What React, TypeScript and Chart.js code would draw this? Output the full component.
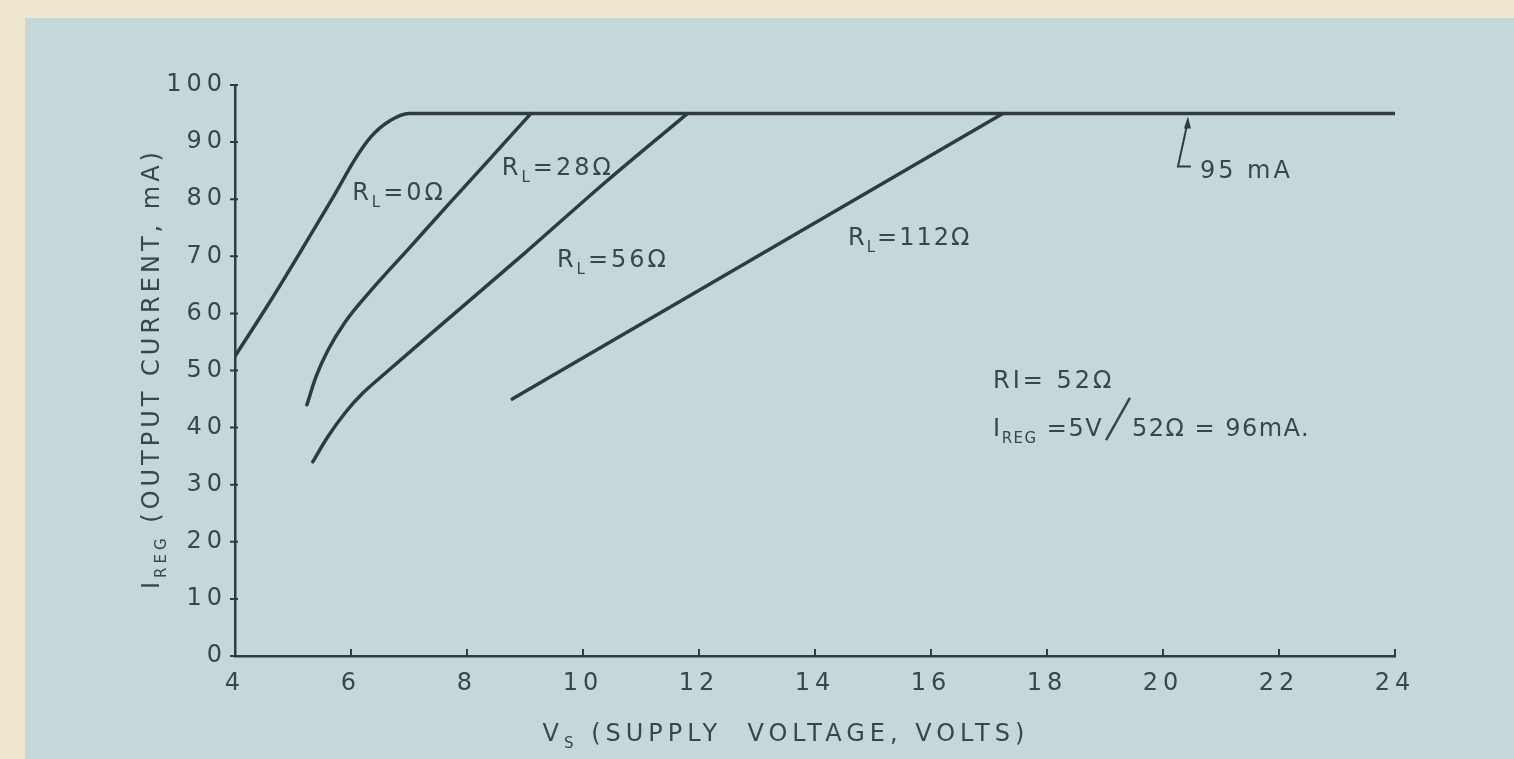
import { useEffect, useRef } from 'react';
import { Chart, registerables } from 'chart.js';

Chart.register(...registerables);

// ---- axis ranges ----
const voltsMin = 4;
const voltsMax = 24;
const voltsStep = 2;
const currentMin = 0;
const currentMax = 100;
const currentStep = 10;

// ---- series (supply voltage V, regulated current mA) ----
const rl0Volts = [4.0, 4.6, 5.2, 5.7, 6.1, 6.35, 6.65, 7.0, 24];
const rl0Current = [52.5, 62, 72, 80.5, 87.5, 91, 93.6, 95, 95];

const rl28Volts = [5.24, 5.4, 5.6, 5.9, 6.3, 7.0, 7.7, 8.4, 9.1];
const rl28Current = [44, 49, 53.5, 58.5, 63.5, 71.4, 79.3, 87.1, 95];

const rl56Volts = [5.34, 5.6, 5.9, 6.2, 6.6, 7.5, 9.0, 10.4, 11.8];
const rl56Current = [34, 38.4, 42.6, 46, 49.6, 57.5, 70.6, 83.1, 95];

const rl112Volts = [8.78, 17.24];
const rl112Current = [45, 95];

const plateauMarkerVolts = 20.43;
const plateauMarkerCurrent = 95;

// ---- texts ----
type Part = { t?: string; sub?: boolean; slash?: boolean };
const curveLabels: { parts: Part[]; v: number; mA: number; spacing: number }[] = [
  { parts: [{ t: 'R' }, { t: 'L', sub: true }, { t: '=0Ω' }], v: 6.02, mA: 79.9, spacing: 3 },
  { parts: [{ t: 'R' }, { t: 'L', sub: true }, { t: '=28Ω' }], v: 8.6, mA: 84.2, spacing: 3 },
  { parts: [{ t: 'R' }, { t: 'L', sub: true }, { t: '=56Ω' }], v: 9.55, mA: 68.1, spacing: 3 },
  { parts: [{ t: 'R' }, { t: 'L', sub: true }, { t: '=112Ω' }], v: 14.57, mA: 72.0, spacing: 2 },
  { parts: [{ t: 'RI= 52Ω' }], v: 17.07, mA: 46.9, spacing: 3 },
  {
    parts: [{ t: 'I' }, { t: 'REG', sub: true }, { t: ' =5V' }, { slash: true }, { t: '52Ω = 96mA.' }],
    v: 17.07,
    mA: 38.5,
    spacing: 1.5,
  },
];
const markerLabel = '95 mA';
const yTitleParts: Part[] = [{ t: 'I' }, { t: 'REG', sub: true }, { t: ' (OUTPUT CURRENT, mA)' }];
const xTitleParts: Part[] = [{ t: 'V' }, { t: 'S', sub: true }, { t: ' (SUPPLY  VOLTAGE, VOLTS)' }];

// ---- styles ----
const CREAM = '#efe7d0';
const PANEL = '#c4d8db';
const INK = '#2f3b3d';
const TEXT = '#3a4648';
const FONT = '"DejaVu Sans"';

function zip(xs: number[], ys: number[]) {
  return xs.map((x, i) => ({ x, y: ys[i] }));
}

function drawRich(ctx: CanvasRenderingContext2D, parts: Part[], x: number, y: number, size: number, align: 'left' | 'center') {
  const mainF = `${size}px ${FONT}`;
  const subF = `${Math.round(size * 0.64)}px ${FONT}`;
  const widths: number[] = [];
  let total = 0;
  for (const p of parts) {
    let w = 0;
    if (p.slash) w = size * 1.2;
    else {
      ctx.font = p.sub ? subF : mainF;
      w = ctx.measureText(p.t || '').width;
    }
    widths.push(w);
    total += w;
  }
  let cx = align === 'center' ? x - total / 2 : x;
  ctx.textAlign = 'left';
  ctx.textBaseline = 'alphabetic';
  parts.forEach((p, i) => {
    if (p.slash) {
      ctx.beginPath();
      ctx.moveTo(cx + 3, y + 4);
      ctx.lineTo(cx + widths[i] - 2, y - size * 1.6);
      ctx.lineWidth = 2.5;
      ctx.strokeStyle = TEXT;
      ctx.stroke();
    } else {
      ctx.font = p.sub ? subF : mainF;
      ctx.fillText(p.t || '', cx, p.sub ? y + size * 0.3 : y);
    }
    cx += widths[i];
  });
}

const paperPlugin = {
  id: 'paper',
  beforeDraw(chart: any) {
    const { ctx, width, height } = chart;
    ctx.save();
    ctx.fillStyle = CREAM;
    ctx.fillRect(0, 0, width, height);
    ctx.fillStyle = PANEL;
    ctx.fillRect(25, 18, width - 25, height - 18);
    ctx.restore();
    (ctx as any).letterSpacing = '5px';
  },
  afterDraw(chart: any) {
    const ctx: CanvasRenderingContext2D = chart.ctx;
    const xs = chart.scales.x;
    const ys = chart.scales.y;
    const area = chart.chartArea;
    ctx.save();
    // tick marks
    ctx.strokeStyle = INK;
    ctx.lineWidth = 2;
    ctx.beginPath();
    xs.ticks.forEach((t: any) => {
      const px = xs.getPixelForValue(t.value);
      ctx.moveTo(px, area.bottom);
      ctx.lineTo(px, area.bottom - 7);
    });
    ys.ticks.forEach((t: any) => {
      const py = ys.getPixelForValue(t.value);
      ctx.moveTo(area.left - 5, py);
      ctx.lineTo(area.left + 3, py);
    });
    ctx.stroke();

    ctx.fillStyle = TEXT;
    for (const l of curveLabels) {
      (ctx as any).letterSpacing = `${l.spacing}px`;
      drawRich(ctx, l.parts, xs.getPixelForValue(l.v), ys.getPixelForValue(l.mA), 24, 'left');
    }

    // 95 mA marker
    (ctx as any).letterSpacing = '3px';
    const ax = xs.getPixelForValue(plateauMarkerVolts);
    const ay = ys.getPixelForValue(plateauMarkerCurrent);
    ctx.fillStyle = INK;
    ctx.beginPath();
    ctx.moveTo(ax, ay + 3);
    ctx.lineTo(ax - 4, ay + 15);
    ctx.lineTo(ax + 3, ay + 15);
    ctx.closePath();
    ctx.fill();
    ctx.strokeStyle = INK;
    ctx.lineWidth = 2;
    ctx.beginPath();
    ctx.moveTo(ax - 1, ay + 12);
    ctx.lineTo(ax - 10, ay + 53);
    ctx.lineTo(ax + 3, ay + 53);
    ctx.stroke();
    ctx.fillStyle = TEXT;
    ctx.font = `24px ${FONT}`;
    ctx.textAlign = 'left';
    ctx.textBaseline = 'alphabetic';
    ctx.fillText(markerLabel, ax + 12, ay + 64);

    // axis titles
    (ctx as any).letterSpacing = '4px';
    ctx.save();
    ctx.translate(area.left - 85, (area.top + area.bottom) / 2 - 2);
    ctx.rotate(-Math.PI / 2);
    drawRich(ctx, yTitleParts, 0, 9, 24, 'center');
    ctx.restore();
    (ctx as any).letterSpacing = '5px';
    drawRich(ctx, xTitleParts, 786, 741, 24, 'center');
    ctx.restore();
  },
};

export default function App() {
  const ref = useRef<HTMLCanvasElement | null>(null);
  useEffect(() => {
    document.body.style.margin = '0';
    if (!ref.current) return;
    const line = (data: number[], y: number[]) => ({
      data: zip(data, y),
      borderColor: INK,
      borderWidth: 3.5,
      pointRadius: 0,
      fill: false,
      cubicInterpolationMode: 'monotone' as const,
      borderCapStyle: 'round' as const,
    });
    const chart = new Chart(ref.current, {
      type: 'line',
      data: {
        datasets: [
          { label: 'RL=0Ω', ...line(rl0Volts, rl0Current) },
          { label: 'RL=28Ω', ...line(rl28Volts, rl28Current) },
          { label: 'RL=56Ω', ...line(rl56Volts, rl56Current) },
          { label: 'RL=112Ω', ...line(rl112Volts, rl112Current) },
        ],
      },
      options: {
        responsive: false,
        animation: false,
        devicePixelRatio: 1,
        layout: { padding: { top: 85, right: 119, left: 0, bottom: 0 } },
        plugins: { legend: { display: false }, tooltip: { enabled: false }, title: { display: false } },
        scales: {
          x: {
            type: 'linear',
            min: voltsMin,
            max: voltsMax,
            ticks: {
              stepSize: voltsStep,
              color: TEXT,
              font: { family: 'DejaVu Sans', size: 24 },
              padding: 13,
              maxRotation: 0,
              autoSkip: false,
            },
            grid: { display: true, drawOnChartArea: false, drawTicks: false },
            border: { display: true, color: INK, width: 2.5 },
            afterFit: (s: any) => {
              s.height = 103;
            },
          },
          y: {
            type: 'linear',
            min: currentMin,
            max: currentMax,
            ticks: {
              stepSize: currentStep,
              color: TEXT,
              font: { family: 'DejaVu Sans', size: 24 },
              padding: 8,
            },
            grid: { display: true, drawOnChartArea: false, drawTicks: false },
            border: { display: true, color: INK, width: 2.5 },
            afterFit: (s: any) => {
              s.width = 235;
            },
          },
        },
      },
      plugins: [paperPlugin],
    });
    return () => chart.destroy();
  }, []);
  return <canvas ref={ref} width={1514} height={759} style={{ display: 'block' }} />;
}
